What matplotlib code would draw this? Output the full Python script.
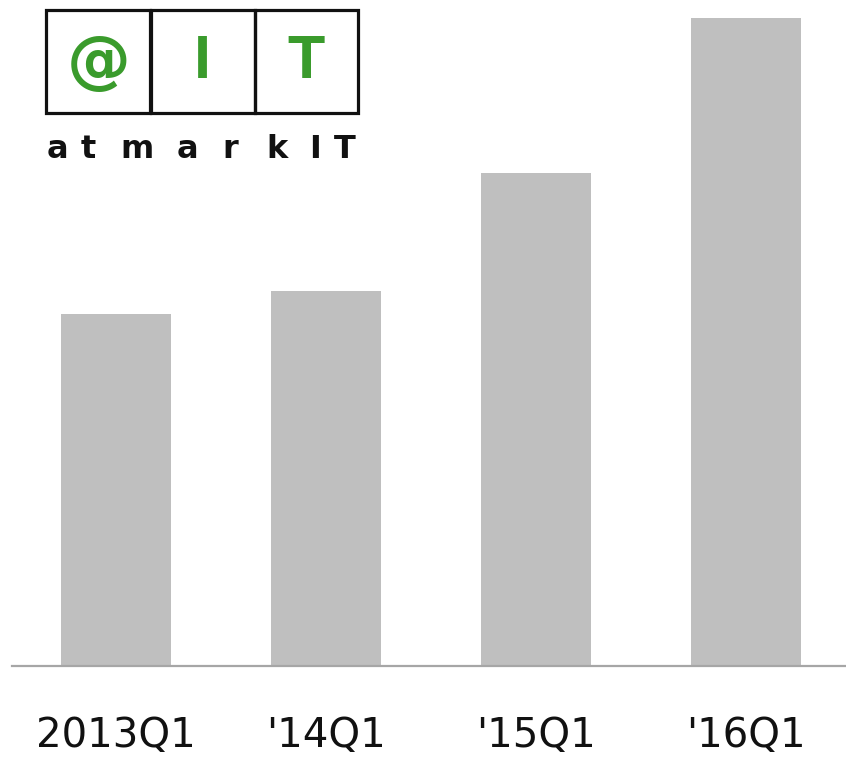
import matplotlib
matplotlib.use("Agg")
import matplotlib.pyplot as plt
from matplotlib.patches import Rectangle

# Quarterly values
categories = ["2013Q1", "'14Q1", "'15Q1", "'16Q1"]
values = [352, 375, 493, 648]

W, H, DPI = 846, 758, 100
fig = plt.figure(figsize=(W / DPI, H / DPI), dpi=DPI)

# Main bar axes
ax = fig.add_axes([12 / W, 1 - 666 / H, 834 / W, 666 / H])
x = list(range(len(categories)))
ax.bar(x, values, width=110 / 210, color="#bfbfbf", zorder=2)
ax.set_xlim(-104 / 210, 3 + 100 / 210)
ax.set_ylim(0, 666)
for side in ("top", "right", "left"):
    ax.spines[side].set_visible(False)
ax.spines["bottom"].set_color("#a6a6a6")
ax.spines["bottom"].set_linewidth(1.6)
ax.set_yticks([])
ax.set_xticks(x)
ax.set_xticklabels(categories, fontsize=29, family="DejaVu Sans", color="#111111")
ax.tick_params(axis="x", length=0, pad=36)

# Logo in pixel coordinates
lax = fig.add_axes([0, 1 - 170 / H, 380 / W, 170 / H])
lax.set_xlim(0, 380)
lax.set_ylim(170, 0)
lax.axis("off")
for x0 in (46, 151, 255):
    lax.add_patch(Rectangle((x0, 10), 104 if x0 != 255 else 103, 103,
                            fill=False, edgecolor="#111111", linewidth=2.3))
green = "#3a9b2c"
lax.text(99, 63, "@", ha="center", va="center", fontsize=46,
         fontweight="bold", family="DejaVu Sans", color=green)
for cx, ch in [(202, "I"), (306, "T")]:
    lax.text(cx, 62, ch, ha="center", va="center", fontsize=44,
             fontweight="bold", family="Liberation Sans", color=green)
for cx, ch in [(57, "a"), (88, "t"), (137, "m"), (187, "a"), (230, "r"),
               (277, "k"), (315, "I"), (345, "T")]:
    lax.text(cx, 158, ch, ha="center", va="baseline", fontsize=23,
             fontweight="heavy", family="DejaVu Sans", color="#111111")

fig.savefig("out.png", dpi=DPI)
